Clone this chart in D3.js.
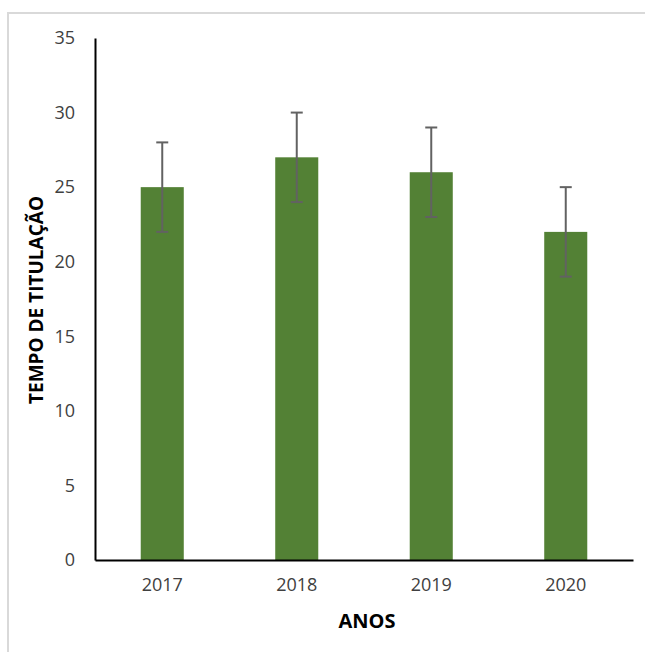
<!DOCTYPE html>
<html><head><meta charset="utf-8">
<script src="https://cdn.jsdelivr.net/npm/d3@7"></script>
<style>body{margin:0;background:#fff;} svg{display:block;}</style>
</head><body>
<svg id="c" width="645" height="652"></svg>
<script>
const categories = ["2017", "2018", "2019", "2020"];
const values = [25, 27, 26, 22];
const errors = [3, 3, 3, 3];
const yTicks = [0, 5, 10, 15, 20, 25, 30, 35];
const xTitle = "ANOS";
const yTitle = "TEMPO DE TITULAÇÃO";

const svg = d3.select("#c");
const m = {left: 95, right: 633, top: 38, bottom: 560};
const font = "'Open Sans', sans-serif";

// outer frame
svg.append("rect").attr("x", 8).attr("y", 13).attr("width", 660).attr("height", 660)
  .attr("fill", "none").attr("stroke", "#d9d9d9").attr("stroke-width", 2);

const x = d3.scaleBand().domain(categories).range([m.left, m.right])
  .paddingInner(0.68).paddingOuter(0.34);
const y = d3.scaleLinear().domain([0, 35]).range([m.bottom, m.top]);

// bars
svg.selectAll("rect.bar").data(categories).join("rect").attr("class", "bar")
  .attr("x", d => x(d)).attr("width", x.bandwidth())
  .attr("y", (d, i) => y(values[i])).attr("height", (d, i) => y(0) - y(values[i]))
  .attr("fill", "#538135");

// y axis
const yAxis = svg.append("g").attr("transform", `translate(${m.left},0)`)
  .call(d3.axisLeft(y).tickValues(yTicks).tickSize(0).tickPadding(20));
yAxis.select(".domain").attr("stroke", "#000").attr("stroke-width", 2);
yAxis.selectAll("text").attr("font-family", font).attr("font-size", 18).attr("fill", "#404040");

// x axis
const xAxis = svg.append("g").attr("transform", `translate(0,${m.bottom})`)
  .call(d3.axisBottom(x).tickSize(0).tickPadding(18));
xAxis.select(".domain").attr("stroke", "#000").attr("stroke-width", 2);
xAxis.selectAll("text").attr("font-family", font).attr("font-size", 18).attr("fill", "#404040");

// error bars
const eb = svg.append("g").attr("stroke", "#626262").attr("stroke-width", 2);
categories.forEach((c, i) => {
  const cx = x(c) + x.bandwidth() / 2;
  const hi = y(values[i] + errors[i]), lo = y(values[i] - errors[i]);
  eb.append("line").attr("x1", cx).attr("x2", cx).attr("y1", hi).attr("y2", lo);
  eb.append("line").attr("x1", cx - 6).attr("x2", cx + 6).attr("y1", hi).attr("y2", hi);
  eb.append("line").attr("x1", cx - 6).attr("x2", cx + 6).attr("y1", lo).attr("y2", lo);
});

// titles
svg.append("text").attr("x", 367).attr("y", 628).attr("text-anchor", "middle")
  .attr("font-family", font).attr("font-weight", "bold").attr("font-size", 20)
  .attr("fill", "#000").text(xTitle);
svg.append("text").attr("transform", "translate(43,300) rotate(-90)").attr("text-anchor", "middle")
  .attr("font-family", font).attr("font-weight", "bold").attr("font-size", 19)
  .attr("fill", "#000").text(yTitle);
</script>
</body></html>
